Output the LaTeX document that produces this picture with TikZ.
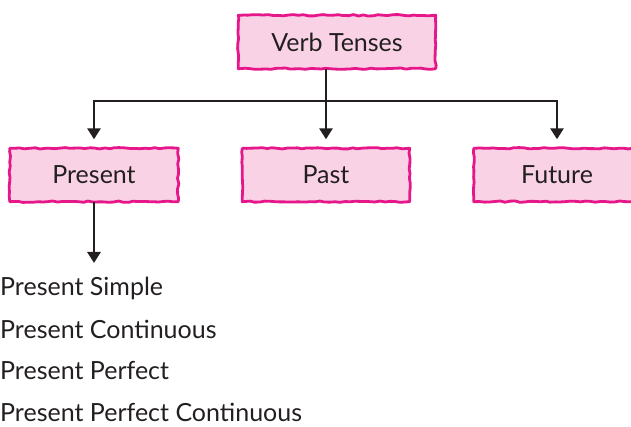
\documentclass[tikz,border=0pt]{standalone}
\usepackage{fontspec}
\setmainfont{Lato}
\usetikzlibrary{arrows.meta,decorations.pathmorphing,calc,backgrounds}
\definecolor{boxfill}{HTML}{F9D3E5}
\definecolor{boxline}{HTML}{E6168B}
\definecolor{ink}{HTML}{231F20}
\tikzset{
  tensebox/.style={minimum height=53pt, inner sep=0pt, text=ink, font=\fontsize{25}{28}\selectfont},
  wobbly/.style={draw=boxline, fill=boxfill, line width=2.8pt, line join=round,
    decorate, decoration={random steps, segment length=5pt, amplitude=0.7pt}},
  link/.style={draw=ink, line width=2.8pt},
  tip/.style={link, -{Triangle[width=13pt,length=11pt]}},
  item/.style={anchor=west, inner sep=0pt, text=ink, font=\fontsize{25}{28}\selectfont}
}
\begin{document}
\begin{tikzpicture}[x=1pt,y=-1pt]
\useasboundingbox (0,0) rectangle (631,427);
\pgfmathsetseed{7}
% category boxes
\node[tensebox, minimum width=197pt] (vt) at (337,42) {Verb Tenses};
\node[tensebox, minimum width=168pt] (present) at (94,175) {Present};
\node[tensebox, minimum width=167pt] (past) at (326,175) {Past};
\node[tensebox, minimum width=166pt] (future) at (557,175) {Future};
% hand-drawn outlines behind the labels
\begin{scope}[on background layer]
\foreach \n in {vt,present,past,future}{
  \path[wobbly] (\n.south west) rectangle (\n.north east);
}
\end{scope}
% tree connectors
\coordinate (bar) at (0,101);
\draw[link] (vt.south -| past) -- (bar -| past);
\draw[link, line cap=rect] (bar -| present) -- (bar -| future);
\draw[tip] (bar -| present) -- ($(present.north)+(0,-9)$);
\draw[tip] (bar -| past) -- ($(past.north)+(0,-9)$);
\draw[tip] (bar -| future) -- ($(future.north)+(0,-9)$);
% present sub-forms
\node[item] (ps)  at (0,288) {Present Simple};
\node[item] (pc)  at (0,329) {Present Continuous};
\node[item] (pp)  at (0,371) {Present Perfect};
\node[item] (ppc) at (0,412) {Present Perfect Continuous};
\coordinate (listtop) at (present.south |- 0,263);
\draw[tip] (present.south) -- (listtop);
\end{tikzpicture}
\end{document}
